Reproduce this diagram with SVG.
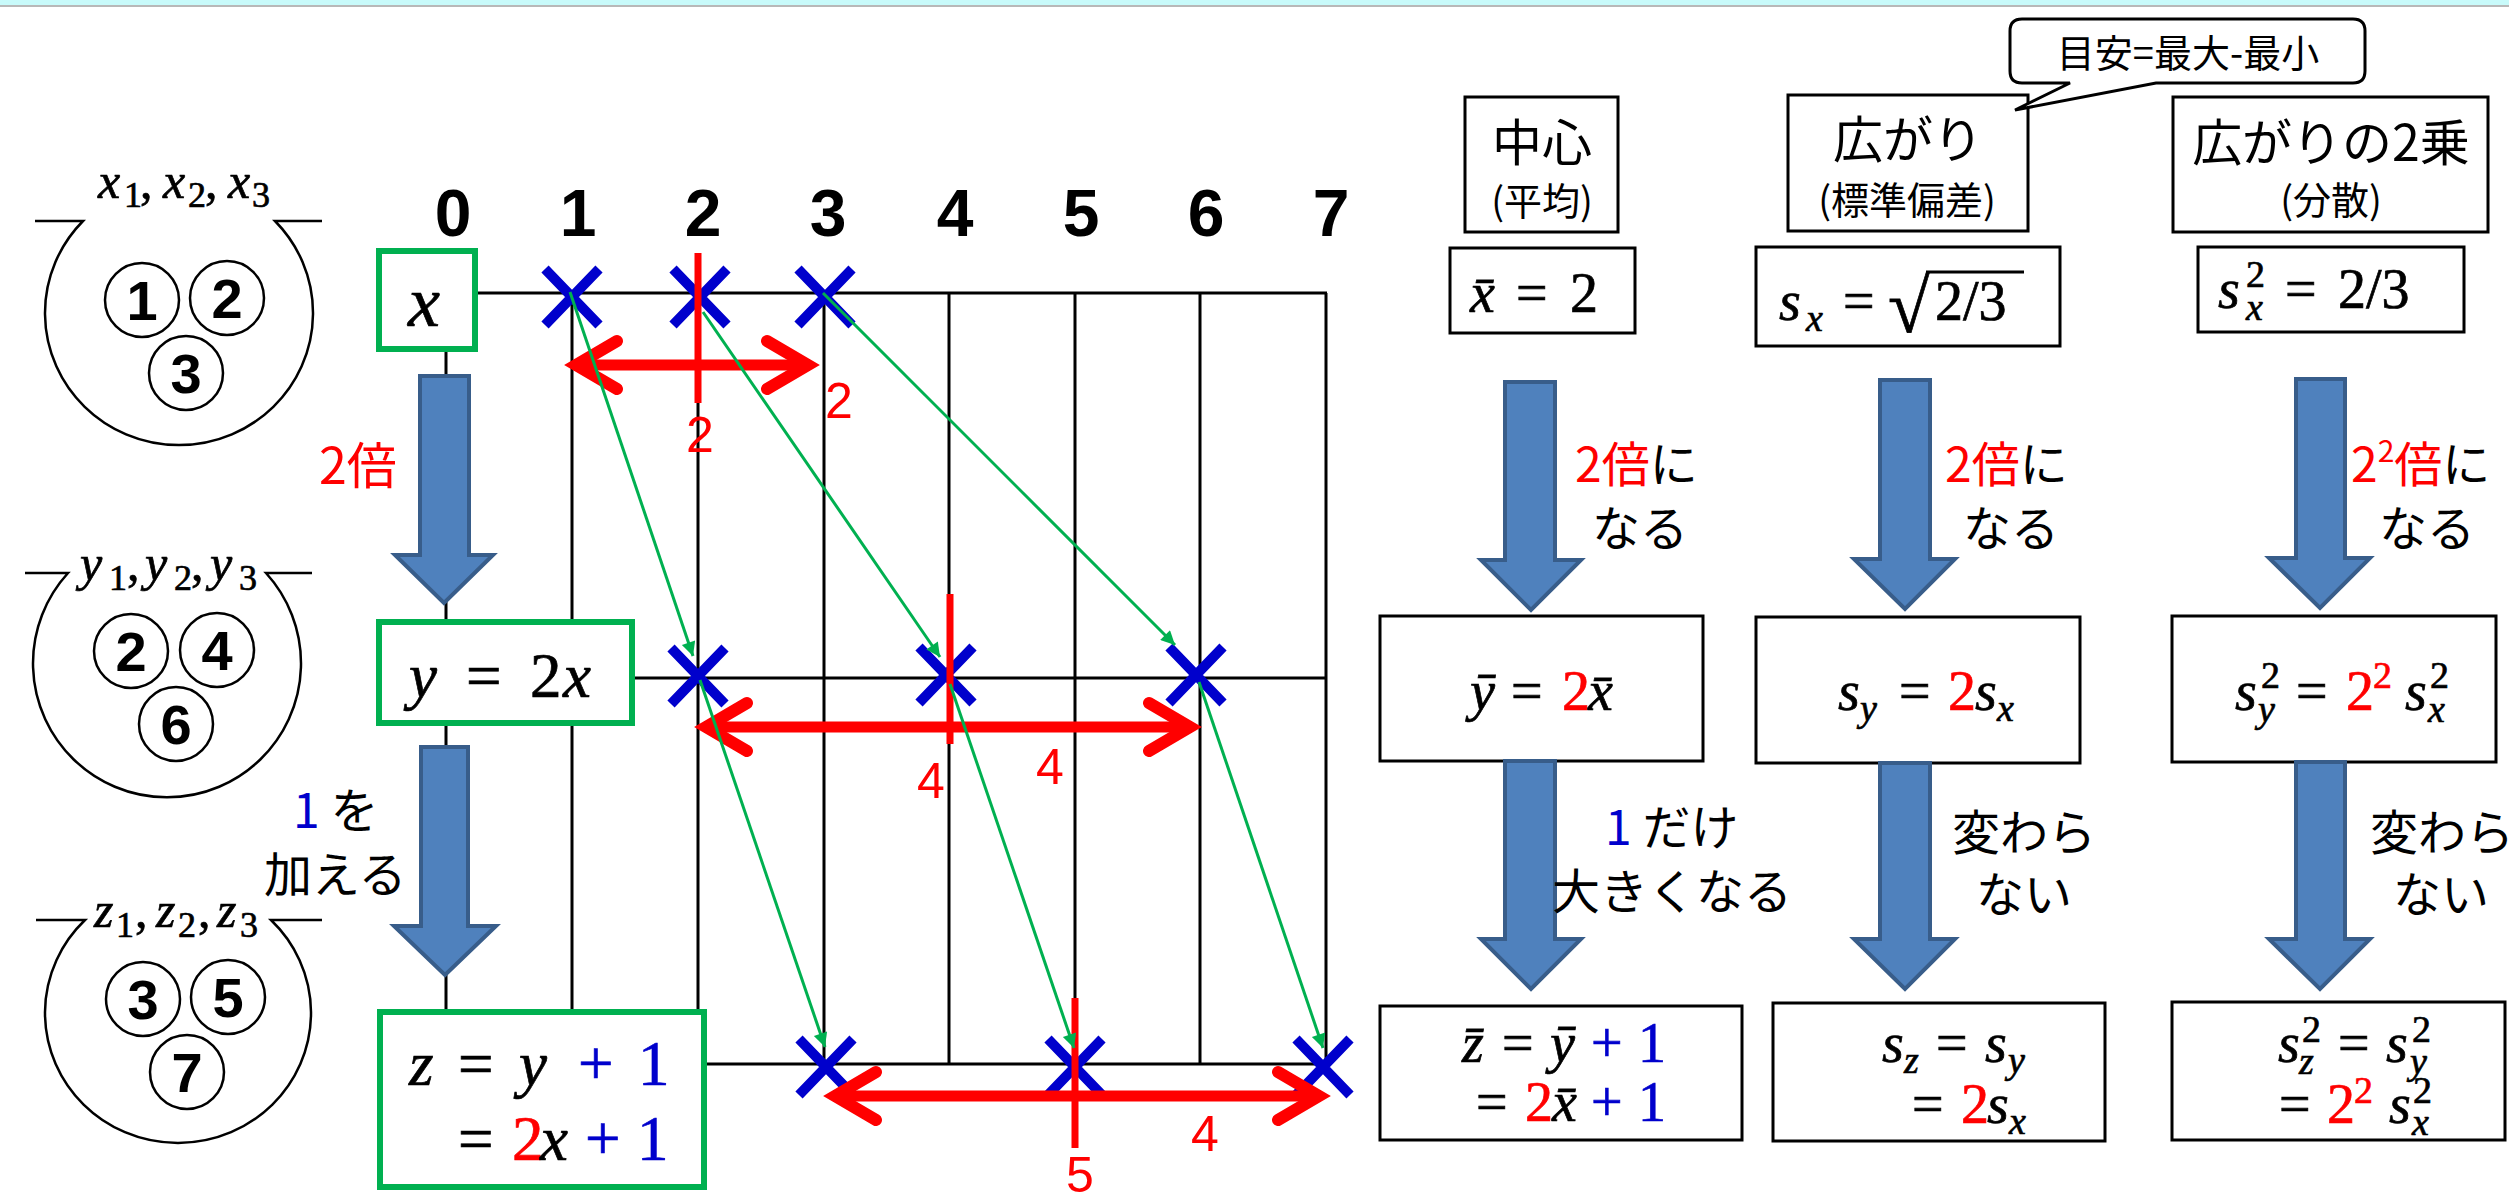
<svg xmlns="http://www.w3.org/2000/svg" width="2509" height="1196" viewBox="0 0 2509 1196">
<style>
.jp{font-family:"Noto Sans CJK JP",sans-serif;}
.num{font-family:"Liberation Sans",Arial,sans-serif;font-weight:bold;}
.rn{font-family:"Liberation Sans",Arial,sans-serif;fill:#FF0000;}
.red{fill:#FF0000}
.blue{fill:#0000CC}
.m{font-family:"Liberation Serif","DejaVu Serif",serif;stroke:#000;stroke-width:0.7;}
.m .red{stroke:#FF0000}
.m .blue{stroke:#0000CC}
.i{font-style:italic}
.grid{stroke:#000;stroke-width:3;fill:none}
.gbox{fill:#fff;stroke:#00B050;stroke-width:6}
.box{fill:#fff;stroke:#000;stroke-width:3}
.bag{fill:none;stroke:#000;stroke-width:2.5}
.circ{fill:#fff;stroke:#000;stroke-width:2.5}
.barrow{fill:#4F81BD;stroke:#385D8A;stroke-width:4}
.xm{stroke:#0000CC;stroke-width:10;fill:none}
.rline{stroke:#FF0000;stroke-width:7}
.rarr{stroke:#FF0000;stroke-width:12;fill:none;stroke-linecap:round;stroke-linejoin:miter}
.rshaft{stroke:#FF0000;stroke-width:11}
.garr{stroke:#00B050;stroke-width:3;marker-end:url(#gh)}
</style>
<defs>
<marker id="gh" viewBox="0 0 10 10" refX="10" refY="5" markerUnits="userSpaceOnUse" markerWidth="18" markerHeight="14" orient="auto">
<path d="M0,0 L10,5 L0,10 z" fill="#00B050"/>
</marker>
<path id="xmk" class="xm" d="M-27,-28L27,28M27,-28L-27,28"/>
</defs>

<rect x="0" y="0" width="2509" height="5" fill="#C8FAFA"/>
<line x1="0" y1="6" x2="2509" y2="6" stroke="#B8B8B8" stroke-width="2"/>

<!-- bags -->
<g id="bag-x">
<path class="bag" d="M35,221 H83 A134,132 0 1 0 275,221 H322"/>
<text class="m" font-size="50"><tspan class="i" x="98" y="198">x</tspan><tspan x="124" y="207" font-size="36">1</tspan><tspan x="140" y="198">,</tspan><tspan class="i" x="163" y="198">x</tspan><tspan x="188" y="207" font-size="36">2</tspan><tspan x="205" y="198">,</tspan><tspan class="i" x="228" y="198">x</tspan><tspan x="252" y="207" font-size="36">3</tspan></text>
<circle class="circ" cx="142" cy="300" r="37"/><circle class="circ" cx="227" cy="298" r="37"/><circle class="circ" cx="186" cy="373" r="37"/>
<text class="num" font-size="56" text-anchor="middle"><tspan x="142" y="320">1</tspan><tspan x="227" y="318">2</tspan><tspan x="186" y="393">3</tspan></text>
</g>
<g id="bag-y">
<path class="bag" d="M25,573 H68 A134,134 0 1 0 266,573 H312"/>
<text class="m" font-size="50"><tspan class="i" x="80" y="580">y</tspan><tspan x="109" y="590" font-size="36">1</tspan><tspan x="127" y="580">,</tspan><tspan class="i" x="145" y="580">y</tspan><tspan x="174" y="590" font-size="36">2</tspan><tspan x="191" y="580">,</tspan><tspan class="i" x="210" y="580">y</tspan><tspan x="239" y="590" font-size="36">3</tspan></text>
<circle class="circ" cx="131" cy="651" r="37"/><circle class="circ" cx="217" cy="650" r="37"/><circle class="circ" cx="176" cy="724" r="37"/>
<text class="num" font-size="56" text-anchor="middle"><tspan x="131" y="671">2</tspan><tspan x="217" y="670">4</tspan><tspan x="176" y="744">6</tspan></text>
</g>
<g id="bag-z">
<path class="bag" d="M36,920 H85 A133,130 0 1 0 271,920 H322"/>
<text class="m" font-size="50"><tspan class="i" x="94" y="927">z</tspan><tspan x="116" y="937" font-size="36">1</tspan><tspan x="135" y="927">,</tspan><tspan class="i" x="156" y="927">z</tspan><tspan x="178" y="937" font-size="36">2</tspan><tspan x="198" y="927">,</tspan><tspan class="i" x="217" y="927">z</tspan><tspan x="240" y="937" font-size="36">3</tspan></text>
<circle class="circ" cx="143" cy="999" r="37"/><circle class="circ" cx="228" cy="997" r="37"/><circle class="circ" cx="187" cy="1072" r="37"/>
<text class="num" font-size="56" text-anchor="middle"><tspan x="143" y="1019">3</tspan><tspan x="228" y="1017">5</tspan><tspan x="187" y="1092">7</tspan></text>
</g>

<!-- axis labels -->
<g id="axis-labels">
<text class="num" font-size="66" text-anchor="middle"><tspan x="453" y="236">0</tspan><tspan x="578" y="236">1</tspan><tspan x="703" y="236">2</tspan><tspan x="828" y="236">3</tspan><tspan x="955" y="236">4</tspan><tspan x="1081" y="236">5</tspan><tspan x="1206" y="236">6</tspan><tspan x="1331" y="236">7</tspan></text>
</g>

<!-- grid -->
<g id="grid" class="grid">
<line x1="475" y1="293" x2="1327" y2="293"/>
<line x1="632" y1="678" x2="1327" y2="678"/>
<line x1="704" y1="1064" x2="1327" y2="1064"/>
<line x1="446" y1="349" x2="446" y2="1012"/>
<line x1="572" y1="293" x2="572" y2="1064"/>
<line x1="698" y1="293" x2="698" y2="1064"/>
<line x1="824" y1="293" x2="824" y2="1064"/>
<line x1="949" y1="293" x2="949" y2="1064"/>
<line x1="1075" y1="293" x2="1075" y2="1064"/>
<line x1="1200" y1="293" x2="1200" y2="1064"/>
<line x1="1326" y1="293" x2="1326" y2="1064"/>
</g>

<!-- left nodes -->
<g id="node-x">
<rect class="gbox" x="379" y="251" width="96" height="98"/>
<text class="m i" x="408" y="326" font-size="72">x</text>
</g>
<g id="node-y">
<rect class="gbox" x="379" y="622" width="253" height="101"/>
<text class="m" font-size="63" y="697"><tspan class="i" x="409">y</tspan><tspan x="466">=</tspan><tspan x="530">2</tspan><tspan class="i" x="563">x</tspan></text>
</g>
<g id="node-z">
<rect class="gbox" x="380" y="1012" width="324" height="175"/>
<text class="m" font-size="63"><tspan class="i" x="409" y="1085">z</tspan><tspan x="458" y="1085">=</tspan><tspan class="i" x="519" y="1085">y</tspan><tspan class="blue" x="578" y="1085">+</tspan><tspan class="blue" x="638" y="1085">1</tspan><tspan x="458" y="1160">=</tspan><tspan class="red" x="512" y="1160">2</tspan><tspan class="i" x="540" y="1160">x</tspan><tspan class="blue" x="585" y="1160">+</tspan><tspan class="blue" x="637" y="1160">1</tspan></text>
</g>

<!-- block arrows left -->
<g id="arrow-left-1">
<polygon class="barrow" points="420,376 469,376 469,555 493,555 444,603 395,555 420,555"/>
<text class="jp red" x="319" y="484" font-size="50">2倍</text>
</g>
<g id="arrow-left-2">
<polygon class="barrow" points="421,747 468,747 468,926 496,926 445,975 394,926 421,926"/>
<text class="jp" x="293" y="828" font-size="48"><tspan class="blue">1</tspan> を</text>
<text class="jp" x="264" y="892" font-size="48">加える</text>
</g>

<!-- connectors -->
<g id="connectors">
<g id="markers">
<use href="#xmk" x="572" y="297"/><use href="#xmk" x="700" y="297"/><use href="#xmk" x="825" y="297"/>
<use href="#xmk" x="698" y="676"/><use href="#xmk" x="946" y="675"/><use href="#xmk" x="1196" y="675"/>
<use href="#xmk" x="826" y="1067"/><use href="#xmk" x="1075" y="1067"/><use href="#xmk" x="1323" y="1067"/>
</g>
<line class="rline" x1="698" y1="253" x2="698" y2="403"/>
<line class="rline" x1="950" y1="594" x2="950" y2="744"/>
<line class="rline" x1="1075" y1="998" x2="1075" y2="1148"/>
<line class="rshaft" x1="576" y1="365" x2="808" y2="365"/>
<path class="rarr" d="M617,341 L576,365 L617,389 M767,341 L808,365 L767,389"/>
<line class="rshaft" x1="706" y1="727" x2="1190" y2="727"/>
<path class="rarr" d="M747,703 L706,727 L747,751 M1149,703 L1190,727 L1149,751"/>
<line class="rshaft" x1="835" y1="1096" x2="1319" y2="1096"/>
<path class="rarr" d="M876,1072 L835,1096 L876,1120 M1278,1072 L1319,1096 L1278,1120"/>
<line class="garr" x1="570" y1="292" x2="693" y2="656"/>
<line class="garr" x1="703" y1="312" x2="940" y2="657"/>
<line class="garr" x1="823" y1="293" x2="1175" y2="645"/>
<line class="garr" x1="700" y1="680" x2="825" y2="1047"/>
<line class="garr" x1="950" y1="684" x2="1074" y2="1048"/>
<line class="garr" x1="1199" y1="682" x2="1323" y2="1048"/>
<text class="rn" font-size="50" text-anchor="middle"><tspan x="700" y="452">2</tspan><tspan x="839" y="418">2</tspan><tspan x="931" y="798">4</tspan><tspan x="1050" y="784">4</tspan><tspan x="1080" y="1192">5</tspan><tspan x="1205" y="1151">4</tspan></text>
</g>

<!-- right: headers -->
<g id="hdr-center">
<rect class="box" x="1465" y="97" width="153" height="135"/>
<text class="jp" text-anchor="middle" x="1542" y="161" font-size="50">中心</text>
<text class="jp" text-anchor="middle" x="1542" y="215" font-size="38">(平均)</text>
</g>
<g id="hdr-spread">
<rect class="box" x="1788" y="95" width="240" height="136"/>
<text class="jp" text-anchor="middle" x="1908" y="158" font-size="50">広がり</text>
<text class="jp" text-anchor="middle" x="1907" y="214" font-size="38">(標準偏差)</text>
</g>
<g id="callout">
<path d="M2022,19 H2353 Q2365,19 2365,31 V71 Q2365,83 2353,83 H2156 L2015,110 L2070,83 H2022 Q2010,83 2010,71 V31 Q2010,19 2022,19 Z" fill="#fff" stroke="#000" stroke-width="3"/>
<text class="jp" text-anchor="middle" x="2188" y="67" font-size="38">目安=最大-最小</text>
</g>
<g id="hdr-var">
<rect class="box" x="2173" y="97" width="315" height="135"/>
<text class="jp" text-anchor="middle" x="2331" y="161" font-size="50">広がりの2乗</text>
<text class="jp" text-anchor="middle" x="2331" y="214" font-size="38">(分散)</text>
</g>

<!-- right: x row -->
<g id="mean-x">
<rect class="box" x="1450" y="248" width="185" height="85"/>
<text class="m" font-size="56" y="312"><tspan class="i" x="1470">x&#x304;</tspan><tspan x="1516">=</tspan><tspan x="1570">2</tspan></text>
</g>
<g id="sd-x">
<rect class="box" x="1756" y="247" width="304" height="99"/>
<text class="m" font-size="56"><tspan class="i" x="1779" y="320">s</tspan><tspan class="i" x="1806" y="331" font-size="38">x</tspan><tspan x="1843" y="320">=</tspan><tspan x="1888" y="332" font-size="76">√</tspan><tspan x="1935" y="320">2/3</tspan></text>
<line x1="1926" y1="272" x2="2024" y2="272" stroke="#000" stroke-width="3"/>
</g>
<g id="var-x">
<rect class="box" x="2198" y="247" width="266" height="85"/>
<text class="m" font-size="56"><tspan class="i" x="2218" y="308">s</tspan><tspan x="2246" y="287" font-size="38">2</tspan><tspan class="i" x="2246" y="320" font-size="38">x</tspan><tspan x="2285" y="308">=</tspan><tspan x="2338" y="308">2/3</tspan></text>
</g>

<!-- right arrows row 1 -->
<g id="arrow-r1a">
<polygon class="barrow" points="1505,382 1555,382 1555,560 1581,560 1531,610 1481,560 1505,560"/>
<text class="jp" x="1575" y="482" font-size="48"><tspan class="red">2倍</tspan>に</text>
<text class="jp" text-anchor="middle" x="1640" y="546" font-size="48">なる</text>
</g>
<g id="arrow-r1b">
<polygon class="barrow" points="1880,380 1930,380 1930,559 1955,559 1905,609 1854,559 1880,559"/>
<text class="jp" x="1945" y="482" font-size="48"><tspan class="red">2倍</tspan>に</text>
<text class="jp" text-anchor="middle" x="2011" y="546" font-size="48">なる</text>
</g>
<g id="arrow-r1c">
<polygon class="barrow" points="2296,379 2345,379 2345,558 2370,558 2320,608 2269,558 2296,558"/>
<text class="jp" x="2351" y="482" font-size="48"><tspan class="red">2</tspan><tspan class="red" font-size="30" dy="-20">2</tspan><tspan class="red" dy="20">倍</tspan>に</text>
<text class="jp" text-anchor="middle" x="2427" y="546" font-size="48">なる</text>
</g>

<!-- right: y row -->
<g id="mean-y">
<rect class="box" x="1380" y="616" width="323" height="145"/>
<text class="m" font-size="56" y="710"><tspan class="i" x="1470">y&#x304;</tspan><tspan x="1511">=</tspan><tspan class="red" x="1562">2</tspan><tspan class="i" x="1588">x&#x304;</tspan></text>
</g>
<g id="sd-y">
<rect class="box" x="1756" y="617" width="324" height="146"/>
<text class="m" font-size="56"><tspan class="i" x="1838" y="710">s</tspan><tspan class="i" x="1860" y="721" font-size="38">y</tspan><tspan x="1899" y="710">=</tspan><tspan class="red" x="1948" y="710">2</tspan><tspan class="i" x="1975" y="710">s</tspan><tspan class="i" x="1997" y="721" font-size="38">x</tspan></text>
</g>
<g id="var-y">
<rect class="box" x="2172" y="616" width="324" height="146"/>
<text class="m" font-size="56"><tspan class="i" x="2235" y="710">s</tspan><tspan x="2261" y="688" font-size="38">2</tspan><tspan class="i" x="2258" y="722" font-size="38">y</tspan><tspan x="2296" y="710">=</tspan><tspan class="red" x="2346" y="710">2</tspan><tspan class="red" x="2373" y="688" font-size="38">2</tspan><tspan class="i" x="2405" y="710">s</tspan><tspan x="2430" y="688" font-size="38">2</tspan><tspan class="i" x="2428" y="722" font-size="38">x</tspan></text>
</g>

<!-- right arrows row 2 -->
<g id="arrow-r2a">
<polygon class="barrow" points="1505,761 1555,761 1555,939 1581,939 1531,989 1481,939 1505,939"/>
<text class="jp" x="1605" y="845" font-size="48"><tspan class="blue">1</tspan> だけ</text>
<text class="jp" text-anchor="middle" x="1672" y="909" font-size="48">大きくなる</text>
</g>
<g id="arrow-r2b">
<polygon class="barrow" points="1880,763 1930,763 1930,939 1955,939 1905,989 1854,939 1880,939"/>
<text class="jp" x="1952" y="850" font-size="48">変わら</text>
<text class="jp" text-anchor="middle" x="2024" y="912" font-size="48">ない</text>
</g>
<g id="arrow-r2c">
<polygon class="barrow" points="2296,762 2345,762 2345,939 2370,939 2320,989 2269,939 2296,939"/>
<text class="jp" x="2370" y="850" font-size="48">変わら</text>
<text class="jp" text-anchor="middle" x="2441" y="912" font-size="48">ない</text>
</g>

<!-- right: z row -->
<g id="mean-z">
<rect class="box" x="1380" y="1006" width="362" height="134"/>
<text class="m" font-size="56"><tspan class="i" x="1462" y="1062">z&#x304;</tspan><tspan x="1502" y="1062">=</tspan><tspan class="i" x="1550" y="1062">y&#x304;</tspan><tspan class="blue" x="1591" y="1062">+</tspan><tspan class="blue" x="1638" y="1062">1</tspan><tspan x="1476" y="1121">=</tspan><tspan class="red" x="1525" y="1121">2</tspan><tspan class="i" x="1552" y="1121">x&#x304;</tspan><tspan class="blue" x="1591" y="1121">+</tspan><tspan class="blue" x="1638" y="1121">1</tspan></text>
</g>
<g id="sd-z">
<rect class="box" x="1773" y="1003" width="332" height="138"/>
<text class="m" font-size="56"><tspan class="i" x="1882" y="1062">s</tspan><tspan class="i" x="1904" y="1073" font-size="38">z</tspan><tspan x="1936" y="1062">=</tspan><tspan class="i" x="1985" y="1062">s</tspan><tspan class="i" x="2008" y="1073" font-size="38">y</tspan><tspan x="1912" y="1123">=</tspan><tspan class="red" x="1961" y="1123">2</tspan><tspan class="i" x="1987" y="1123">s</tspan><tspan class="i" x="2009" y="1134" font-size="38">x</tspan></text>
</g>
<g id="var-z">
<rect class="box" x="2172" y="1002" width="333" height="138"/>
<text class="m" font-size="56"><tspan class="i" x="2278" y="1062">s</tspan><tspan x="2302" y="1042" font-size="38">2</tspan><tspan class="i" x="2299" y="1074" font-size="38">z</tspan><tspan x="2338" y="1062">=</tspan><tspan class="i" x="2386" y="1062">s</tspan><tspan x="2412" y="1042" font-size="38">2</tspan><tspan class="i" x="2410" y="1074" font-size="38">y</tspan><tspan x="2279" y="1123">=</tspan><tspan class="red" x="2327" y="1123">2</tspan><tspan class="red" x="2354" y="1103" font-size="38">2</tspan><tspan class="i" x="2389" y="1123">s</tspan><tspan x="2413" y="1103" font-size="38">2</tspan><tspan class="i" x="2412" y="1135" font-size="38">x</tspan></text>
</g>
</svg>
